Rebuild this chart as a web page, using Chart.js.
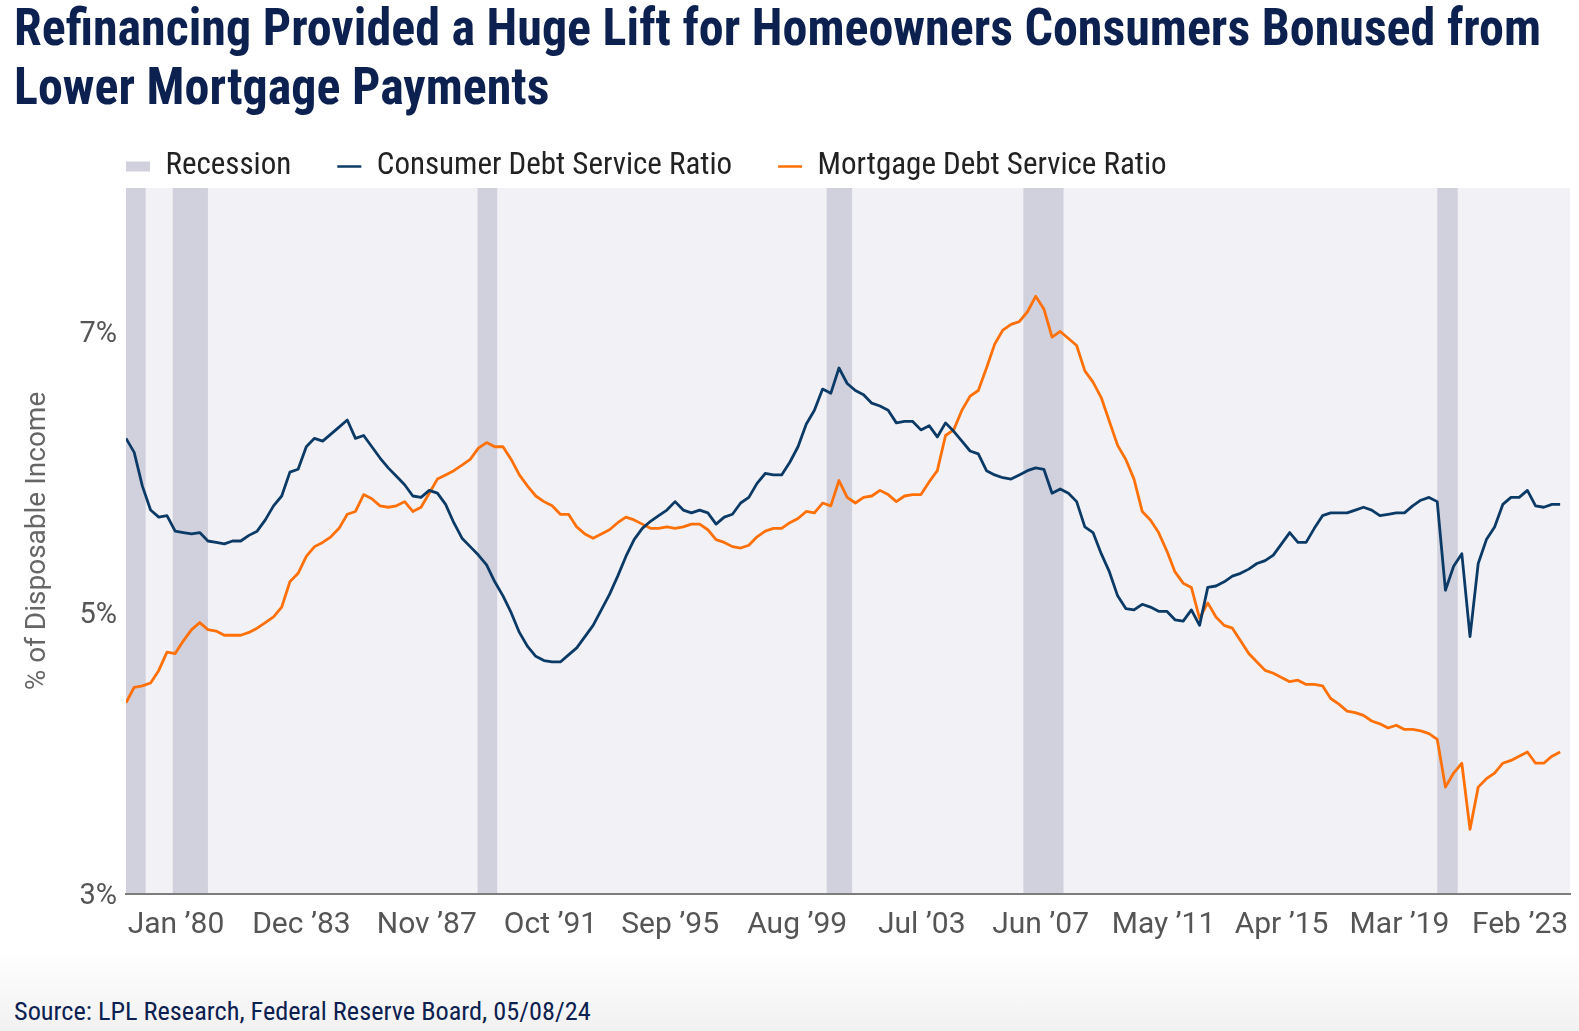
<!DOCTYPE html>
<html lang="en">
<head>
<meta charset="UTF-8">
<title>Refinancing Provided a Huge Lift for Homeowners</title>
<script src="https://cdn.jsdelivr.net/npm/chart.js"></script>
<style>
    body {
        margin: 0;
        width: 1579px;
        height: 1031px;
        position: relative;
        overflow: hidden;
        background: #fff;
        font-family: 'Roboto Condensed', Roboto, sans-serif;
    }
    .title {
        position: absolute;
        left: 14px;
        top: -1px;
        color: #0c2150;
        font-weight: 700;
        font-size: 52px;
        line-height: 58.5px;
        white-space: nowrap;
    }
    .title span {
        display: inline-block;
        transform-origin: 0 0;
    }
    .chart-box {
        position: absolute;
        left: 0;
        top: 105px;
        width: 1579px;
        height: 849px;
    }
    .footer {
        position: absolute;
        left: 0;
        top: 950px;
        width: 1579px;
        height: 81px;
        background: linear-gradient(#ffffff, #f1f1f1);
    }
    .source {
        position: absolute;
        left: 14px;
        top: 996px;
        font-size: 26.3px;
        color: #0c2150;
    }
</style>
</head>
<body>
    <div class="title">
        <span id="t1">Refinancing Provided a Huge Lift for Homeowners Consumers Bonused from</span><br>
        <span id="t2">Lower Mortgage Payments</span>
    </div>
    <div class="chart-box"><canvas id="dsr_chart"></canvas></div>
    <div class="footer"></div>
    <div class="source">Source: LPL Research, Federal Reserve Board, 05/08/24</div>

<script>
// quarterly, Q1 1980 .. Q4 2023 (% of disposable income)
const consumerDsr = [
    6.24, 6.14, 5.90, 5.73, 5.68, 5.69, 5.58, 5.57, 5.56, 5.57,
    5.51, 5.50, 5.49, 5.51, 5.51, 5.55, 5.58, 5.66, 5.76, 5.83,
    6.00, 6.02, 6.18, 6.24, 6.22, 6.27, 6.32, 6.37, 6.24, 6.26,
    6.18, 6.10, 6.03, 5.97, 5.91, 5.83, 5.82, 5.87, 5.85, 5.77,
    5.64, 5.53, 5.47, 5.41, 5.34, 5.22, 5.12, 5.00, 4.86, 4.76,
    4.69, 4.66, 4.65, 4.65, 4.70, 4.75, 4.83, 4.91, 5.02, 5.13,
    5.26, 5.40, 5.52, 5.60, 5.65, 5.69, 5.73, 5.79, 5.73, 5.71,
    5.73, 5.71, 5.63, 5.68, 5.70, 5.78, 5.82, 5.92, 5.99, 5.98,
    5.98, 6.07, 6.18, 6.34, 6.44, 6.59, 6.56, 6.74, 6.63, 6.58,
    6.55, 6.49, 6.47, 6.44, 6.35, 6.36, 6.36, 6.30, 6.33, 6.25,
    6.35, 6.29, 6.22, 6.15, 6.13, 6.01, 5.98, 5.96, 5.95, 5.98,
    6.01, 6.03, 6.02, 5.85, 5.88, 5.85, 5.79, 5.61, 5.57, 5.42,
    5.29, 5.12, 5.03, 5.02, 5.06, 5.04, 5.01, 5.01, 4.95, 4.94,
    5.02, 4.91, 5.18, 5.19, 5.22, 5.26, 5.28, 5.31, 5.35, 5.37,
    5.41, 5.49, 5.57, 5.50, 5.50, 5.60, 5.69, 5.71, 5.71, 5.71,
    5.73, 5.75, 5.73, 5.69, 5.70, 5.71, 5.71, 5.76, 5.80, 5.82,
    5.79, 5.16, 5.33, 5.42, 4.83, 5.35, 5.52, 5.61, 5.77, 5.82,
    5.82, 5.87, 5.76, 5.75, 5.77, 5.77
];
const mortgageDsr = [
    4.36, 4.47, 4.48, 4.50, 4.59, 4.72, 4.71, 4.80, 4.88, 4.93,
    4.88, 4.87, 4.84, 4.84, 4.84, 4.86, 4.89, 4.93, 4.97, 5.04,
    5.22, 5.28, 5.40, 5.47, 5.50, 5.54, 5.60, 5.70, 5.72, 5.84,
    5.81, 5.76, 5.75, 5.76, 5.79, 5.72, 5.75, 5.85, 5.95, 5.98,
    6.01, 6.05, 6.09, 6.17, 6.21, 6.18, 6.18, 6.09, 5.98, 5.90,
    5.83, 5.79, 5.76, 5.70, 5.70, 5.61, 5.56, 5.53, 5.56, 5.59,
    5.64, 5.68, 5.66, 5.63, 5.60, 5.60, 5.61, 5.60, 5.61, 5.63,
    5.63, 5.59, 5.52, 5.50, 5.47, 5.46, 5.48, 5.54, 5.58, 5.60,
    5.60, 5.64, 5.67, 5.72, 5.71, 5.78, 5.76, 5.94, 5.82, 5.78,
    5.82, 5.83, 5.87, 5.84, 5.79, 5.83, 5.84, 5.84, 5.93, 6.01,
    6.26, 6.30, 6.44, 6.54, 6.58, 6.74, 6.91, 7.01, 7.05, 7.07,
    7.14, 7.25, 7.16, 6.96, 7.00, 6.95, 6.90, 6.72, 6.64, 6.53,
    6.36, 6.19, 6.09, 5.95, 5.72, 5.66, 5.57, 5.44, 5.29, 5.21,
    5.18, 4.96, 5.07, 4.97, 4.91, 4.89, 4.80, 4.71, 4.65, 4.59,
    4.57, 4.54, 4.51, 4.52, 4.49, 4.49, 4.48, 4.39, 4.35, 4.30,
    4.29, 4.27, 4.23, 4.21, 4.18, 4.20, 4.17, 4.17, 4.16, 4.14,
    4.10, 3.76, 3.86, 3.93, 3.46, 3.76, 3.82, 3.86, 3.93, 3.95,
    3.98, 4.01, 3.93, 3.93, 3.98, 4.01
];

// recession shading, in quarters from Q1 1980
const recessionStart = [0, 5.7, 42.9, 85.5, 109.5, 160.0];
const recessionEnd = [2.4, 10.0, 45.3, 88.6, 114.4, 162.5];

const xTickPos = [6.1, 21.4, 36.7, 51.8, 66.4, 81.9, 97.1, 111.6, 126.6, 141.0, 155.4, 170.1];
const xTickLabels = ["Jan \u201980", "Dec \u201983", "Nov \u201987", "Oct \u201991", "Sep \u201995", "Aug \u201999",
                     "Jul \u201903", "Jun \u201907", "May \u201911", "Apr \u201915", "Mar \u201919", "Feb \u201923"];
const yTicks = [3, 5, 7];

const navy = '#0c3a66';
const orange = '#ff7007';
const recessionColor = '#d1d1dd';
const labelFont = "'Roboto Condensed', Roboto, sans-serif";

// squeeze the headline so it fits the same width as the original
const t1 = document.getElementById('t1');
const squeeze = 1527 / t1.getBoundingClientRect().width;
document.querySelectorAll('.title span').forEach(s => s.style.transform = 'scaleX(' + squeeze + ')');

const plotBackground = {
    id: 'plotBackground',
    beforeDraw(chart) {
        const {ctx, chartArea: a, scales: {x}} = chart;
        ctx.save();
        ctx.fillStyle = '#f2f2f6';
        ctx.fillRect(a.left, a.top, a.right - a.left, a.bottom - a.top);
        ctx.fillStyle = recessionColor;
        recessionStart.forEach((s, i) => {
            const x0 = x.getPixelForValue(s);
            const x1 = x.getPixelForValue(recessionEnd[i]);
            ctx.fillRect(x0, a.top, x1 - x0, a.bottom - a.top);
        });
        ctx.restore();
    }
};

const legendPlacement = {
    id: 'legendPlacement',
    beforeInit(chart) {
        const fit = chart.legend.fit;
        chart.legend.fit = function () {
            fit.call(this);
            this.height = 83;
        };
    },
    afterLayout(chart) {
        // line the legend up with the plot's left edge
        chart.legend.left = chart.chartArea.left - chart.legend.options.labels.padding;
    }
};

new Chart('dsr_chart', {
    type: 'line',
    data: {
        datasets: [{
            label: 'Consumer Debt Service Ratio',
            data: consumerDsr.map((v, i) => ({x: i, y: v})),
            borderColor: navy,
            borderWidth: 2.8,
            pointRadius: 0,
            tension: 0,
            borderJoinStyle: 'round'
        }, {
            label: 'Mortgage Debt Service Ratio',
            data: mortgageDsr.map((v, i) => ({x: i, y: v})),
            borderColor: orange,
            borderWidth: 2.8,
            pointRadius: 0,
            tension: 0,
            borderJoinStyle: 'round'
        }]
    },
    options: {
        responsive: true,
        maintainAspectRatio: false,
        animation: false,
        layout: {padding: {left: 0, right: 9, top: 0, bottom: 0}},
        plugins: {
            legend: {
                position: 'top',
                align: 'start',
                labels: {
                    usePointStyle: true,
                    pointStyleWidth: 24,
                    boxHeight: 10,
                    padding: 46,
                    color: '#222',
                    font: {family: labelFont, size: 31},
                    generateLabels: () => [
                        {text: 'Recession', pointStyle: 'rect', fillStyle: recessionColor, strokeStyle: recessionColor, lineWidth: 0, fontColor: '#222', hidden: false},
                        {text: 'Consumer Debt Service Ratio', pointStyle: 'line', fillStyle: navy, strokeStyle: navy, lineWidth: 2.5, fontColor: '#222', hidden: false, datasetIndex: 0},
                        {text: 'Mortgage Debt Service Ratio', pointStyle: 'line', fillStyle: orange, strokeStyle: orange, lineWidth: 2.5, fontColor: '#222', hidden: false, datasetIndex: 1}
                    ]
                }
            },
            tooltip: {enabled: false}
        },
        scales: {
            x: {
                type: 'linear',
                min: 0,
                max: 176.2,
                grid: {display: false},
                border: {display: true, color: '#7d7d7d', width: 2},
                afterBuildTicks: s => { s.ticks = xTickPos.map(v => ({value: v})); },
                afterFit: s => { s.height = 60; },
                ticks: {
                    autoSkip: false,
                    maxRotation: 0,
                    padding: 5,
                    color: '#555',
                    font: {family: 'Roboto', size: 30},
                    callback: (v, i) => xTickLabels[i]
                }
            },
            y: {
                min: 3,
                max: 8.02,
                grid: {display: false, drawTicks: false},
                border: {display: false},
                afterBuildTicks: s => { s.ticks = yTicks.map(v => ({value: v})); },
                afterFit: s => { s.width = 126; },
                ticks: {
                    padding: 9,
                    labelOffset: 3,
                    color: '#555',
                    font: {family: 'Roboto', size: 29},
                    callback: v => v + '%'
                },
                title: {
                    display: true,
                    text: '% of Disposable Income',
                    color: '#666',
                    font: {family: 'Roboto', size: 28},
                    padding: {top: 21, bottom: 0}
                }
            }
        }
    },
    plugins: [plotBackground, legendPlacement]
});
</script>
</body>
</html>
